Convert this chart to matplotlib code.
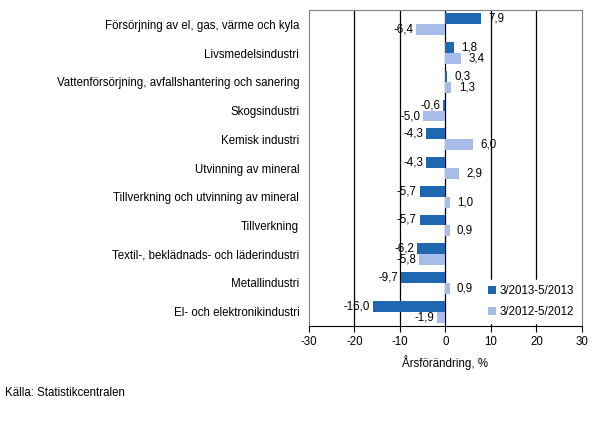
import numpy as np
import matplotlib.pyplot as plt

plt.rcParams['font.family'] = ['Liberation Sans', 'DejaVu Sans']
plt.rcParams['axes.unicode_minus'] = False

categories = [
    'Försörjning av el, gas, värme och kyla',
    'Livsmedelsindustri',
    'Vattenförsörjning, avfallshantering och sanering',
    'Skogsindustri',
    'Kemisk industri',
    'Utvinning av mineral',
    'Tillverkning och utvinning av mineral',
    'Tillverkning',
    'Textil-, beklädnads- och läderindustri',
    'Metallindustri',
    'El- och elektronikindustri',
]
series_2013 = [7.9, 1.8, 0.3, -0.6, -4.3, -4.3, -5.7, -5.7, -6.2, -9.7, -16.0]
series_2012 = [-6.4, 3.4, 1.3, -5.0, 6.0, 2.9, 1.0, 0.9, -5.8, 0.9, -1.9]
labels = ['3/2013-5/2013', '3/2012-5/2012']
colors = ['#1f67b1', '#a8bdea']


def fmt(v):
    return f'{v:.1f}'.replace('.', ',')


def main():
    fig = plt.figure(figsize=(5.98, 4.21), dpi=100)
    ax = fig.add_axes([0.5167, 0.2257, 0.4565, 0.7505])

    y = np.arange(len(categories))
    h = 0.38
    for vals, off, col, lab in [(series_2013, -h / 2, colors[0], labels[0]),
                                (series_2012, h / 2, colors[1], labels[1])]:
        ax.barh(y + off, vals, height=h, color=col, label=lab, zorder=3)
        for yi, v in zip(y, vals):
            if v >= 0:
                ax.text(v + 1.6, yi + off, fmt(v), ha='left', va='center',
                        fontsize=8.3, zorder=4)
            else:
                ax.text(v - 0.6, yi + off, fmt(v), ha='right', va='center',
                        fontsize=8.3, zorder=4)

    ax.set_ylim(len(categories) - 0.5, -0.5)
    ax.set_xlim(-30, 30)
    ax.set_xticks(np.arange(-30, 31, 10))
    ax.set_yticks(y)
    ax.set_yticklabels(categories, fontsize=8.3)
    ax.tick_params(axis='y', length=0, pad=7)
    ax.tick_params(axis='x', labelsize=8.3, length=4, color='black', direction='out')
    for x in [-20, -10, 0, 10, 20]:
        ax.axvline(x, color='black', linewidth=0.9, zorder=1)
    for s in ['top', 'right', 'left']:
        ax.spines[s].set_color('#808080')
    ax.spines['bottom'].set_color('black')
    ax.set_xlabel('Årsförändring, %', fontsize=8.3, labelpad=5)

    leg = ax.legend(loc='lower right', fontsize=8.3, frameon=True, handlelength=0.7,
                    handleheight=0.7, labelspacing=0.8, borderaxespad=0.3,
                    handletextpad=0.3, bbox_to_anchor=(1.0, 0.0))
    leg.get_frame().set_edgecolor('white')
    leg.get_frame().set_facecolor('white')
    leg.get_frame().set_alpha(1)
    leg.set_zorder(5)

    fig.text(0.008, 0.06, 'Källa: Statistikcentralen', fontsize=8.3)
    fig.savefig('out.png', dpi=100)


if __name__ == '__main__':
    main()
